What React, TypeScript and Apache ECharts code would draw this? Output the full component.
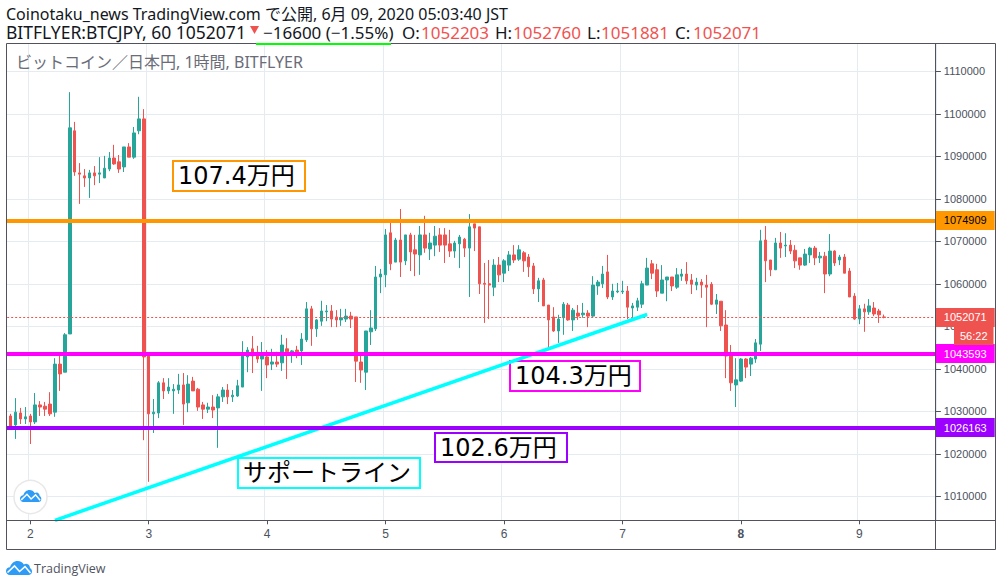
import React, { useEffect, useRef } from "react";
import * as echarts from "echarts";

const dayLabels = ["2", "3", "4", "5", "6", "7", "8", "9"];
const firstDayIndex = 5;
const candlesPerDay = 24;
const slotCount = 189;
const priceTicks = [1010000, 1020000, 1030000, 1040000, 1050000, 1060000, 1070000, 1080000, 1090000, 1100000, 1110000];

const opens = [
  1026400,1028900,1026800,1029600,1028200,1028900,1027500,1031500,1031200,1031700,
  1029800,1041100,1039200,1048200,1096000,1086100,1085400,1084900,1086100,1085800,
  1084900,1087000,1089600,1088700,1087500,1092200,1089800,1096000,1098800,1043000,
  1029400,1029600,1036700,1034800,1034800,1035000,1036200,1032000,1037100,1035200,
  1031500,1030500,1031000,1030800,1033400,1035000,1033400,1033600,1035700,1042800,
  1044700,1043500,1042300,1042800,1041100,1041600,1041400,1044700,1044000,1044400,
  1044200,1046800,1054100,1049400,1051200,1053400,1053600,1052200,1051500,1051700,
  1052400,1052200,1041600,1039200,1048700,1049400,1061600,1062100,1072000,1065100,
  1070300,1065400,1071500,1068000,1066800,1071500,1068200,1069100,1071500,1071500,
  1069400,1067700,1069400,1070500,1068400,1074100,1073400,1060100,1060000,1059200,
  1064400,1062500,1064400,1066800,1065800,1067300,1066300,1064200,1058800,1060900,
  1055000,1052200,1048900,1052000,1055000,1051500,1053100,1052700,1053100,1052400,
  1059500,1060000,1062800,1056900,1058100,1058100,1058300,1054300,1054500,1055200,
  1059700,1064700,1063300,1057800,1060900,1061600,1059200,1061800,1062300,1060900,
  1059700,1060400,1059700,1059900,1055200,1055900,1050300,1043200,1036200,1037100,
  1042300,1041100,1042300,1045800,1070300,1065600,1063300,1069600,1068900,1069100,
  1067900,1066100,1064400,1066800,1068400,1066100,1066500,1062300,1067700,1065600,
  1066300,1063000,1057100,1051700,1054100,1053400,1054300,1053600,1052203,
];
const highs = [
  1029400,1029400,1033100,1030800,1031000,1029400,1034300,1032400,1032200,1034500,
  1042500,1043200,1048400,1105100,1098100,1088400,1087000,1086800,1087700,1089800,
  1090100,1091000,1092700,1090300,1092200,1093100,1096900,1104000,1101100,1043000,
  1032900,1037100,1037800,1037800,1036400,1038800,1039000,1038500,1038100,1035500,
  1032200,1032000,1033800,1034100,1035700,1036400,1035000,1037400,1046500,1045100,
  1047700,1045400,1046300,1044400,1044700,1044000,1048000,1047200,1044400,1045400,
  1048400,1055700,1054800,1051700,1056000,1055000,1055000,1053800,1054100,1054100,
  1053400,1052200,1043200,1048900,1053800,1064200,1063500,1072900,1074500,1070800,
  1077600,1071500,1072000,1071500,1073600,1076000,1072000,1073600,1073100,1073100,
  1072700,1070100,1071500,1070800,1076400,1074100,1073400,1064900,1065600,1065800,
  1066300,1065800,1067700,1069100,1069100,1067700,1067000,1064900,1061400,1061400,
  1055000,1054500,1052700,1055700,1055500,1054300,1055000,1055500,1053800,1061800,
  1060900,1064200,1066800,1060000,1060200,1060700,1059500,1055500,1056700,1060700,
  1066100,1065600,1064700,1064400,1061600,1061600,1063700,1063500,1065100,1062300,
  1061400,1061100,1062100,1060400,1057600,1055900,1053800,1045600,1042500,1042500,
  1042500,1042800,1047000,1072700,1073600,1065600,1070800,1072200,1071900,1070300,
  1069100,1066100,1068200,1068700,1068900,1067500,1067500,1071700,1067900,1066800,
  1067000,1063700,1057800,1055000,1055300,1056400,1055700,1054100,1052760,
];
const lows = [
  1026000,1025600,1023500,1027000,1027000,1022300,1027000,1028900,1028900,1028900,
  1028700,1034800,1039200,1048200,1085400,1078800,1082800,1080200,1083200,1083700,
  1084900,1086500,1088000,1086100,1086300,1089800,1089400,1095200,1023200,1013400,
  1024900,1028400,1032900,1034100,1029400,1034100,1026800,1029800,1034800,1030100,
  1028200,1029600,1028400,1021400,1032200,1031700,1032200,1033400,1035700,1039200,
  1039000,1041400,1034800,1037800,1039700,1040400,1039500,1037600,1041400,1042500,
  1040900,1046300,1045400,1047500,1050100,1051200,1049800,1049800,1050100,1051000,
  1049600,1036900,1036700,1035000,1045600,1048900,1057800,1059200,1063200,1065100,
  1061600,1064400,1063000,1061800,1062100,1067300,1065600,1066500,1067500,1064900,
  1066300,1066100,1063700,1066300,1056900,1067700,1057600,1050800,1051700,1057100,
  1060400,1060400,1063000,1064900,1065400,1062800,1061600,1057600,1055700,1054800,
  1044400,1048700,1046100,1048000,1051300,1048900,1051500,1052000,1049800,1052200,
  1057400,1059000,1056400,1056200,1057800,1057600,1051700,1052000,1053600,1054300,
  1059700,1061100,1056900,1057800,1055900,1058300,1058800,1060700,1059900,1057600,
  1058500,1056700,1049800,1055000,1052900,1048900,1037800,1034800,1031000,1036900,
  1037800,1038300,1041400,1044200,1060400,1061800,1063300,1066100,1066300,1067000,
  1063700,1063300,1064200,1064900,1064400,1064900,1057800,1061800,1064200,1064400,
  1062500,1056900,1051500,1050500,1048700,1052700,1052400,1050800,1051881,
];
const closes = [
  1028900,1026500,1029800,1028200,1028700,1027500,1031500,1031000,1030500,1029400,
  1041100,1038800,1048000,1096700,1086300,1085800,1084900,1086100,1085400,1086100,
  1087200,1089600,1088200,1087000,1092200,1089800,1095500,1098800,1042800,1029400,
  1029800,1036700,1034800,1035700,1035200,1036200,1031700,1036400,1034800,1031000,
  1030500,1031000,1030300,1033400,1035000,1033400,1033800,1036000,1043000,1044400,
  1043000,1042300,1043000,1040900,1041600,1041100,1045600,1044000,1044200,1044000,
  1047000,1054100,1049400,1051500,1053600,1053600,1051700,1051500,1052000,1052400,
  1051700,1041800,1039700,1048900,1049600,1061600,1062300,1071500,1064700,1070300,
  1065100,1071500,1067500,1067000,1071500,1068400,1069600,1071200,1069100,1069100,
  1067700,1069600,1071000,1068400,1073400,1073100,1060000,1059900,1059700,1064400,
  1062100,1065400,1066800,1065600,1068000,1065400,1064000,1058800,1060700,1054800,
  1051500,1048900,1051700,1055200,1051500,1053800,1052400,1053100,1052400,1059700,
  1060400,1062300,1056900,1058300,1058300,1058300,1054500,1054800,1056000,1060000,
  1063700,1062500,1058300,1060900,1061600,1059500,1062100,1062300,1060700,1059900,
  1060400,1059700,1059200,1055200,1056200,1050100,1043000,1036700,1037400,1042300,
  1040400,1042500,1046100,1070100,1065400,1063300,1069600,1068400,1069100,1067700,
  1065400,1064400,1067000,1068400,1066100,1066500,1062300,1067700,1064900,1066300,
  1062500,1056900,1051700,1054100,1053400,1054800,1052900,1052700,1052071,
];

const resistancePrice = 1074909;
const midSupportPrice = 1043593;
const lowSupportPrice = 1026163;
const lastPrice = 1052071;
const trendStart: [number, number] = [10, 1004351];
const trendEnd: [number, number] = [130, 1052776];

const axisMin = 1004351;
const axisMax = 1116542;

const FRAME = "#50535e";
const GRID = "#e4ecf2";
const UP = "#26a69a";
const DOWN = "#ef5350";
const ORANGE = "#ff9800";
const MAGENTA = "#ff00ff";
const PURPLE = "#9c00ff";
const CYAN = "#00ffff";
const UI_FONT = '"Noto Sans", "Noto Sans CJK JP", sans-serif';
const NOTE_FONT = '"DejaVu Sans", "Noto Sans CJK JP", sans-serif';
const AXIS_FONT = '"Liberation Sans", Arial, sans-serif';

const cloudPath =
  "M4 14 C1.5 14 0 12 0 10 C0 7.8 1.8 6.2 4 6.2 C5 2.6 8 0 11.5 0 C14.5 0 16.6 1.5 17.8 3.4 C18.6 3 19.4 2.8 20.2 2.8 C22.6 2.8 24 5 24 7 C25.4 7.8 26 9 26 10.4 C26 12.4 24.6 14 22.4 14 Z";
echarts.graphic.registerShape("tvCloud", echarts.graphic.extendPath(cloudPath, {}) as any);
const zigzag = [[1.5, 11.5], [8.5, 5], [13.5, 10.5], [19, 5.6], [24.5, 12]];

function priceTag(value: number, bg: string) {
  return {
    show: true,
    position: "end",
    distance: 0,
    formatter: String(value),
    color: "#fff",
    backgroundColor: bg,
    padding: [3, 8, 3, 8],
    lineHeight: 13,
    fontSize: 11,
    fontFamily: AXIS_FONT,
  };
}

function level(value: number, color: string, textColor = "#fff") {
  return {
    yAxis: value,
    lineStyle: { color, width: 4, type: "solid", opacity: 1 },
    label: { ...priceTag(value, color), color: textColor },
  };
}

function noteBox(x: number, y: number, w: number, h: number, color: string, text: string) {
  return [
    {
      type: "rect",
      z: 1,
      shape: { x: x + 1, y: y + 1, width: w - 2, height: h - 2 },
      style: { fill: "#fff", stroke: color, lineWidth: 2 },
    },
    {
      type: "text",
      z: 1,
      x: x + 6,
      y: y + h / 2,
      style: { text, fill: "#000", font: `24px ${NOTE_FONT}`, textVerticalAlign: "middle" },
    },
  ];
}

function headText(x: number, text: string, fill: string, size = 17) {
  return {
    type: "text",
    z: 200,
    x,
    y: 32,
    style: { text, fill, font: `${size}px ${UI_FONT}`, textVerticalAlign: "middle" },
  };
}

export default function App() {
  const ref = useRef<HTMLDivElement>(null);
  useEffect(() => {
    const chart = echarts.init(ref.current!, undefined, { renderer: "svg" });
    const categories = Array.from({ length: slotCount }, (_, i) => {
      const d = (i - firstDayIndex) / candlesPerDay;
      return i >= firstDayIndex && Number.isInteger(d) && dayLabels[d] ? dayLabels[d] : "";
    });
    const isDay = (i: number) => categories[i] !== "";
    const option: any = {
      animation: false,
      backgroundColor: "#fff",
      grid: { left: 3.16, top: 43.5, width: 932.7, height: 476.8, containLabel: false },
      xAxis: {
        type: "category",
        data: categories,
        boundaryGap: true,
        axisLine: { show: false },
        axisTick: { show: true, alignWithLabel: true, interval: isDay, length: 4, lineStyle: { color: FRAME } },
        splitLine: { show: true, interval: isDay, lineStyle: { color: GRID, width: 1 } },
        axisLabel: {
          show: true,
          interval: isDay,
          margin: 8,
          color: "#4c525e",
          fontSize: 12,
          fontFamily: AXIS_FONT,
          formatter: (v: string) => (v === "8" ? "{b|8}" : v),
          rich: { b: { fontWeight: "bold", fontSize: 12, color: "#4c525e", fontFamily: AXIS_FONT } },
        },
      },
      yAxis: {
        type: "value",
        position: "right",
        min: axisMin,
        max: axisMax,
        axisLine: { show: false },
        axisTick: { show: true, length: 5, customValues: priceTicks, lineStyle: { color: FRAME } },
        splitLine: { show: true, lineStyle: { color: GRID, width: 1 } },
        axisLabel: {
          show: true,
          customValues: priceTicks,
          margin: 8,
          color: "#4c525e",
          fontSize: 11,
          fontFamily: AXIS_FONT,
          formatter: (v: number) => String(Math.round(v)),
        },
      },
      series: [
        {
          type: "candlestick",
          data: opens.map((o, i) => [o, closes[i], lows[i], highs[i]]),
          barWidth: 2.99,
          itemStyle: {
            color: UP,
            color0: DOWN,
            borderColor: UP,
            borderColor0: DOWN,
            borderColorDoji: DOWN,
            borderWidth: 1,
          },
          markLine: {
            silent: true,
            symbol: ["none", "none"],
            animation: false,
            precision: 0,
            data: [
              {
                yAxis: lastPrice,
                lineStyle: { color: DOWN, width: 1, type: [2, 2], opacity: 1 },
                label: priceTag(lastPrice, DOWN),
              },
              [
                {
                  coord: trendStart,
                  lineStyle: { color: CYAN, width: 3.5, type: "solid", opacity: 1 },
                  label: { show: false },
                },
                { coord: trendEnd },
              ],
              level(lowSupportPrice, PURPLE),
              level(midSupportPrice, MAGENTA),
              level(resistancePrice, ORANGE, "#000"),
            ],
          },
        },
      ],
      graphic: [
        { type: "rect", z: 100, shape: { x: 0, y: 44, width: 6, height: 476 }, style: { fill: "#fff" } },
        {
          type: "rect",
          z: 110,
          shape: { x: 6.5, y: 43.5, width: 989, height: 506 },
          style: { fill: "none", stroke: FRAME, lineWidth: 1 },
        },
        { type: "line", z: 110, shape: { x1: 6.5, y1: 520.5, x2: 995.5, y2: 520.5 }, style: { stroke: FRAME, lineWidth: 1 } },
        { type: "line", z: 110, shape: { x1: 935.5, y1: 43.5, x2: 935.5, y2: 549.5 }, style: { stroke: FRAME, lineWidth: 1 } },
        { type: "line", z: 120, shape: { x1: 256, y1: 44, x2: 391, y2: 44 }, style: { stroke: "#00ff00", lineWidth: 2 } },

        ...noteBox(172, 160, 134, 32, ORANGE, "107.4万円"),
        ...noteBox(237, 457, 184, 32, CYAN, "サポートライン"),
        ...noteBox(509, 360, 132, 32, MAGENTA, "104.3万円"),
        ...noteBox(434, 432, 134, 31, PURPLE, "102.6万円"),

        {
          type: "text",
          z: 120,
          x: 954,
          y: 327,
          style: {
            text: "56:22",
            fill: "#fff",
            backgroundColor: DOWN,
            font: `11px ${AXIS_FONT}`,
            padding: [3, 6, 3, 6],
            lineHeight: 12,
          },
        },

        {
          type: "text",
          z: 120,
          x: 6,
          y: 14,
          style: {
            text: "Coinotaku_news TradingView.com で公開, 6月 09, 2020 05:03:40 JST",
            fill: "#131722",
            font: `16px ${UI_FONT}`,
            textVerticalAlign: "middle",
          },
        },
        headText(6, "BITFLYER:BTCJPY, 60 1052071", "#131722", 17.5),
        { type: "polygon", z: 200, shape: { points: [[250, 26], [259, 26], [254.5, 34]] }, style: { fill: DOWN } },
        headText(263, "−16600 (−1.55%)", "#131722"),
        headText(402, "O:", "#131722"),
        headText(421, "1052203", DOWN),
        headText(495, "H:", "#131722"),
        headText(513, "1052760", DOWN),
        headText(587, "L:", "#131722"),
        headText(601, "1051881", DOWN),
        headText(675, "C:", "#131722"),
        headText(693, "1052071", DOWN),

        {
          type: "text",
          z: 120,
          x: 16,
          y: 62,
          style: {
            text: "ビットコイン／日本円, 1時間, BITFLYER",
            fill: "#6a6d78",
            font: `16px ${UI_FONT}`,
            textVerticalAlign: "middle",
          },
        },

        {
          type: "circle",
          z: 120,
          shape: { cx: 30.5, cy: 497, r: 16.5 },
          style: { fill: "#fff", stroke: "#e8e8e8", lineWidth: 1.5 },
        },
        { type: "tvCloud", z: 121, x: 20, y: 490, scaleX: 0.82, scaleY: 0.86, style: { fill: "#2e9cf6" } },
        {
          type: "polyline",
          z: 122,
          x: 20,
          y: 490,
          scaleX: 0.82,
          scaleY: 0.86,
          shape: { points: zigzag },
          style: { stroke: "#fff", fill: "none", lineWidth: 1.8 },
        },

        { type: "tvCloud", z: 121, x: 6, y: 561, style: { fill: "#2e9cf6" } },
        {
          type: "polyline",
          z: 122,
          x: 6,
          y: 561,
          shape: { points: zigzag },
          style: { stroke: "#fff", fill: "none", lineWidth: 1.6 },
        },
        {
          type: "text",
          z: 120,
          x: 34,
          y: 568,
          style: { text: "TradingView", fill: "#50535e", font: '12.5px "Open Sans", sans-serif', textVerticalAlign: "middle" },
        },
      ],
    };
    chart.setOption(option);
    return () => chart.dispose();
  }, []);
  return <div ref={ref} style={{ position: "fixed", left: 0, top: 0, width: 1002, height: 586 }} />;
}
